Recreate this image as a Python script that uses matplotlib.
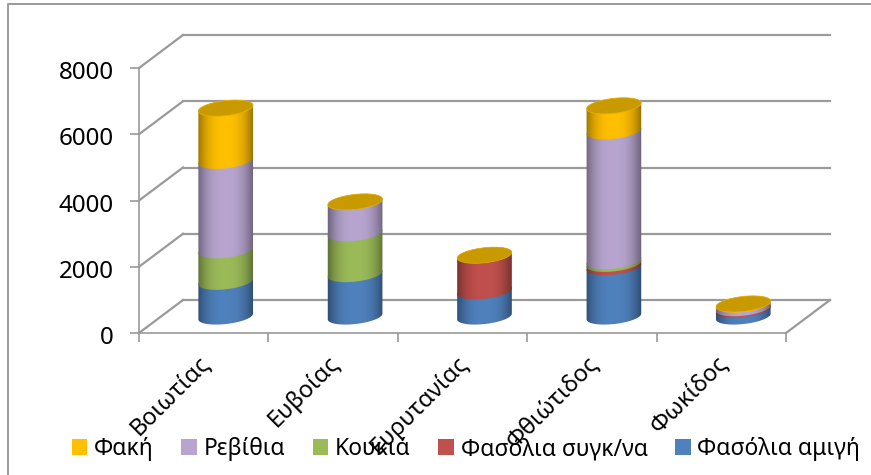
import numpy as np
import matplotlib
matplotlib.use("Agg")
import matplotlib.pyplot as plt
from matplotlib.lines import Line2D
from matplotlib.patches import Patch, PathPatch
from matplotlib.path import Path
from matplotlib.transforms import Affine2D, IdentityTransform
from matplotlib.colors import to_rgb

plt.rcParams['font.family'] = ['Noto Sans', 'DejaVu Sans']

regions = ["Βοιωτίας", "Ευβοίας", "Ευρυτανίας", "Φθιώτιδος", "Φωκίδος"]
yticks = [0, 2000, 4000, 6000, 8000]

# stacked bottom to top
fasolia_amigi = [1050, 1280, 760, 1490, 210]
fasolia_sygk = [0, 0, 1090, 100, 40]
koukia = [950, 1230, 0, 80, 0]
revithia = [2700, 950, 0, 3920, 110]
faki = [1590, 0, 0, 770, 20]

series = [fasolia_amigi, fasolia_sygk, koukia, revithia, faki]
colors = ["#4F81BD", "#C0504D", "#9BBB59", "#B7A5CF", "#FFC000"]
names = ["Φακή", "Ρεβίθια", "Κουκιά", "Φασόλια συγκ/να", "Φασόλια αμιγή"]
cap_color = "#C99A00"
grid_color = "#9A9A9A"

W, H = 871, 475
fig = plt.figure(figsize=(W / 100, H / 100), dpi=100)
# front plane of the fake 3d box, pixels: x 139-786, y 68-333
ax = fig.add_axes([139 / W, 1 - 333 / H, (786 - 139) / W, (333 - 68) / H])
ax.patch.set_visible(False)
n = len(regions)
ax.set_xlim(0, n)
ax.set_ylim(0, 8000)
ax.autoscale(False)
for s in ax.spines.values():
    s.set_visible(False)
for side in ['left', 'bottom']:
    ax.spines[side].set_visible(True)
    ax.spines[side].set_color(grid_color)
    ax.spines[side].set_linewidth(1.2)

dx, dy = 44, 33
back = ax.transData + Affine2D().translate(dx, dy)
mid = ax.transData + Affine2D().translate(dx / 2, dy / 2)

# outer chart border, only left and top show in the crop
fig.add_artist(Line2D([8 / W, 8 / W, 1], [0, 1 - 4 / H, 1 - 4 / H], transform=fig.transFigure,
                      color=grid_color, lw=1.4))

# back wall gridlines and the side wall diagonals
for v in yticks:
    ax.plot([0, n], [v, v], color=grid_color, lw=1.6, transform=back, clip_on=False, zorder=1)
    p0 = ax.transData.transform((0, v))
    ax.plot([p0[0], p0[0] + dx], [p0[1], p0[1] + dy], color=grid_color, lw=1.6,
            transform=IdentityTransform(), clip_on=False, zorder=1)
p0 = ax.transData.transform((n, 0))
ax.plot([p0[0], p0[0] + dx], [p0[1], p0[1] + dy], color=grid_color, lw=1.6,
        transform=IdentityTransform(), clip_on=False, zorder=1)

half_w = 27.5
half_h = 7.5
tilt = np.radians(6.5)


def arc(cx, cy, t0, t1):
    t = np.linspace(t0, t1, 40)
    x = half_w * np.cos(t)
    y = half_h * np.sin(t)
    return np.column_stack([cx + x * np.cos(tilt) - y * np.sin(tilt),
                            cy + x * np.sin(tilt) + y * np.cos(tilt)])


def shaded(color):
    rgb = np.array(to_rgb(color))
    u = np.linspace(-1, 1, 64)
    k = 1.0 - 0.42 * np.abs(u) ** 2.6
    return (k[:, None] * rgb)[None, :, :]


for i in range(n):
    bottom = 0
    for vals, col in zip(series, colors):
        v = vals[i]
        if v <= 0:
            continue
        top = bottom + v
        c0 = mid.transform((i + 0.5, bottom))
        c1 = mid.transform((i + 0.5, top))
        pts = np.vstack([arc(c0[0], c0[1], np.pi, 2 * np.pi), arc(c1[0], c1[1], 0, np.pi)])
        clip = Path(np.vstack([pts, pts[0]]), closed=True)
        im = ax.imshow(shaded(col), extent=[i + 0.5 - 0.22, i + 0.5 + 0.22, bottom - 400, top + 400],
                       aspect='auto', interpolation='bilinear', transform=mid, zorder=3)
        im.set_clip_path(clip, IdentityTransform())
        bottom = top
    c1 = mid.transform((i + 0.5, bottom))
    cap = Path(arc(c1[0], c1[1], 0, 2 * np.pi), closed=True)
    ax.add_patch(PathPatch(cap, fc=cap_color, ec="#E8B400", lw=0.5, transform=IdentityTransform(),
                           clip_on=False, zorder=4))

ax.set_xlim(0, n)
ax.set_ylim(0, 8000)
ax.set_yticks(yticks)
ax.tick_params(axis='y', length=6.5, width=1.2, color=grid_color, labelsize=17.4, pad=11.5)
for lab in ax.get_yticklabels():
    lab.set_transform(lab.get_transform() + Affine2D().translate(0, -2))
ax.set_xticks(range(n + 1))
ax.set_xticklabels([])
ax.tick_params(axis='x', which='major', length=6.5, width=1.2, color=grid_color)
ax.set_xticks(np.arange(n) + 0.5, minor=True)
ax.set_xticklabels(regions, minor=True, rotation=45, ha='right', va='top', rotation_mode='anchor',
                   fontsize=17)
ax.tick_params(axis='x', which='minor', length=0, pad=13)
for lab in ax.get_xticklabels(minor=True):
    lab.set_transform(lab.get_transform() + Affine2D().translate(-6, 0))

handles = [Patch(fc=colors[k], ec='none') for k in [4, 3, 2, 1, 0]]
leg = fig.legend(handles, names, loc='center', bbox_to_anchor=(466 / W, 1 - 449 / H), ncols=5, frameon=False,
                 fontsize=16.45, handlelength=0.68, handleheight=0.68, handletextpad=0.3,
                 columnspacing=1.2, borderpad=0, labelcolor='black')
leg.set_zorder(10)

fig.savefig("out.png", dpi=100)
